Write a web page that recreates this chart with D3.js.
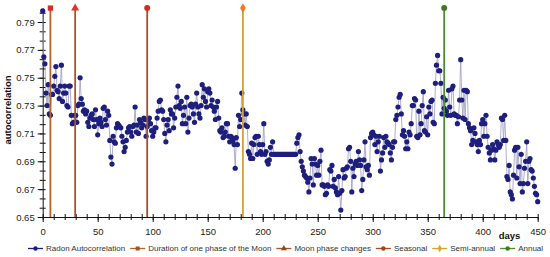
<!DOCTYPE html>
<html>
<head>
<meta charset="utf-8">
<script src="https://cdn.jsdelivr.net/npm/d3@7"></script>
<style>
    body { margin: 0; background: #fff; }
    svg text { font-family: "Liberation Sans", Arial, sans-serif; }
</style>
</head>
<body>
<div id="chart"></div>
<script>

// radon autocorrelation, one value per day starting at day 0
var autocorr = [
    .798, .765, .760, .739, .730, .745, .724, .723, .738, .738,
    .744, .751, .758, .741, .740, .735, .744, .759, .733, .739,
    .744, .739, .730, .729, .744, .744, .723, .717, .718, .723,
    .723, .718, .730, .731, .750, .735, .731, .726, .727, .724,
    .726, .718, .715, .721, .723, .724, .720, .715, .727, .720,
    .709, .717, .721, .718, .715, .728, .729, .720, .716, .726,
    .723, .705, .693, .688, .708, .704, .703, .714, .717, .716,
    .715, .714, .708, .704, .697, .700, .705, .711, .714, .715,
    .711, .708, .715, .716, .729, .711, .716, .710, .720, .718,
    .714, .716, .721, .720, .708, .715, .720, .721, .717, .712,
    .708, .711, .714, .714, .721, .726, .733, .734, .727, .726,
    .720, .710, .704, .716, .720, .712, .727, .724, .724, .714,
    .721, .729, .736, .744, .730, .728, .733, .717, .723, .729,
    .717, .736, .711, .721, .730, .731, .729, .724, .718, .731,
    .739, .729, .724, .721, .730, .745, .736, .742, .733, .729,
    .740, .742, .739, .730, .734, .729, .726, .720, .729, .733,
    .721, .712, .711, .714, .707, .708, .711, .717, .717, .708,
    .704, .708, .707, .705, .702, .685, .707, .702, .723, .715,
    .720, .739, .727, .724, .716, .724, .715, .697, .695, .692,
    .703, .692, .702, .707, .708, .695, .708, .702, .697, .695,
    .702, .717, .695, .697, .690, .688, .691, .700, .695, .704,
    .695, .695, .695, .695, .695, .695, .695, .695, .695, .695,
    .695, .695, .695, .695, .695, .695, .695, .695, .695, .695,
    .695, .703, .707, .709, .697, .690, .686, .683, .680, .679,
    .678, .675, .668, .678, .692, .688, .673, .692, .688, .680,
    .687, .680, .690, .698, .673, .673, .672, .666, .667, .673,
    .672, .684, .683, .687, .672, .677, .671, .668, .666, .679,
    .667, .655, .669, .684, .678, .679, .685, .686, .699, .700,
    .690, .668, .685, .679, .688, .690, .687, .697, .691, .687,
    .669, .677, .691, .704, .686, .684, .687, .680, .707, .710,
    .711, .709, .702, .708, .697, .704, .708, .683, .691, .696,
    .707, .700, .708, .704, .703, .702, .696, .691, .700, .704,
    .704, .720, .723, .729, .736, .738, .724, .709, .712, .708,
    .699, .704, .699, .711, .709, .717, .730, .730, .735, .734,
    .708, .707, .726, .709, .717, .730, .740, .712, .711, .722,
    .709, .729, .724, .733, .734, .718, .717, .746, .759, .766,
    .755, .755, .746, .724, .736, .728, .734, .726, .723, .741,
    .729, .723, .742, .744, .724, .723, .723, .717, .722, .734,
    .763, .734, .721, .741, .720, .741, .740, .717, .714, .712,
    .702, .705, .714, .710, .704, .702, .697, .705, .702, .717,
    .720, .708, .717, .723, .708, .700, .696, .691, .698, .702,
    .699, .691, .698, .704, .702, .700, .702, .721, .720, .705,
    .723, .705, .679, .677, .687, .668, .666, .663, .680, .698,
    .700, .678, .700, .686, .674, .695, .668, .674, .685, .690,
    .704, .674, .690, .692, .684, .683, .678, .672, .667, .666,
    .661
];
var seriesName = "Radon Autocorrelation";

// periodicities shown as vertical lines (days)
var periodNames = ["Duration of one phase of the Moon", "Moon phase changes", "Seasonal", "Semi-annual", "Annual"];
var periodDays = [7, 29.5, 95, 182, 365];

var xTicks = [0, 50, 100, 150, 200, 250, 300, 350, 400, 450];
var yTicks = [0.65, 0.67, 0.69, 0.71, 0.73, 0.75, 0.77, 0.79];

// styles
var lineColors = ["#b0642c", "#a8552e", "#a0502a", "#cfa23a", "#4c8a34"];
var markerColors = ["#e0262a", "#e43028", "#d8281e", "#f07a24", "#3f7a2a"];
var legendMarkerColors = ["#a0561e", "#8f4a1c", "#a0461a", "#d8aa22", "#3f7d22"];
var markerSymbols = [d3.symbolSquare, d3.symbolTriangle, d3.symbolCircle, d3.symbolDiamond, d3.symbolCircle];
var dotColor = "#1e1e7c";
var linkColor = "#9a9ac0";

var width = 550, height = 257;

var svg = d3.select("#chart").append("svg")
    .attr("width", width)
    .attr("height", height);

var x = d3.scaleLinear()
    .domain([0, 450])
    .range([42.7, 537.7]);

var y = d3.scaleLinear()
    .domain([0.65, 0.80])
    .range([217, 8.1]);

// minor ticks cross the axis line, labelled ones stick out further
var yMinor = d3.range(0, 23).map(function (i) { return 0.65 + i * 0.02 / 3; });
var xMinor = d3.range(0, 46).map(function (i) { return i * 10; });

svg.append("g")
    .attr("transform", "translate(" + x(0) + ",0)")
    .call(d3.axisRight(y).tickValues(yMinor).tickSize(3).tickFormat(""))
    .call(function (g) { g.select(".domain").remove(); });

svg.append("g")
    .attr("transform", "translate(" + x(0) + ",0)")
    .call(d3.axisLeft(y).tickValues(yMinor).tickSize(3).tickFormat(""))
    .call(function (g) { g.select(".domain").remove(); });

var yAxis = svg.append("g")
    .attr("transform", "translate(" + x(0) + ",0)")
    .call(d3.axisLeft(y).tickValues(yTicks).tickSizeInner(5).tickSizeOuter(0).tickPadding(3).tickFormat(d3.format(".2f")));

svg.append("g")
    .attr("transform", "translate(0," + y(0.65) + ")")
    .call(d3.axisTop(x).tickValues(xMinor).tickSize(3).tickFormat(""))
    .call(function (g) { g.select(".domain").remove(); });

svg.append("g")
    .attr("transform", "translate(0," + y(0.65) + ")")
    .call(d3.axisBottom(x).tickValues(xMinor).tickSize(3).tickFormat(""))
    .call(function (g) { g.select(".domain").remove(); });

var xAxis = svg.append("g")
    .attr("transform", "translate(0," + y(0.65) + ")")
    .call(d3.axisBottom(x).tickValues(xTicks).tickSizeInner(5).tickSizeOuter(0).tickPadding(6));

svg.selectAll(".tick text")
    .attr("font-size", "9.5px")
    .attr("fill", "#222");

svg.selectAll(".domain, .tick line")
    .attr("stroke", "#111");

// axis titles
svg.append("text")
    .attr("transform", "translate(11," + 110 + ") rotate(-90)")
    .attr("text-anchor", "middle")
    .attr("font-size", "9.5px")
    .attr("font-weight", "bold")
    .attr("fill", "#111")
    .text("autocorrelation");

svg.append("text")
    .attr("x", 509.5)
    .attr("y", 239)
    .attr("text-anchor", "middle")
    .attr("font-size", "9.5px")
    .attr("font-weight", "bold")
    .attr("fill", "#111")
    .text("days");

// data series: thin link line + dots
var line = d3.line()
    .x(function (d, i) { return x(i); })
    .y(function (d) { return y(d); });

svg.append("path")
    .datum(autocorr)
    .attr("fill", "none")
    .attr("stroke", linkColor)
    .attr("stroke-width", 0.8)
    .attr("d", line);

svg.selectAll("circle.dot")
    .data(autocorr)
    .enter().append("circle")
    .attr("class", "dot")
    .attr("cx", function (d, i) { return x(i); })
    .attr("cy", function (d) { return y(d); })
    .attr("r", 2.6)
    .attr("fill", dotColor);

// periodicity lines with marker on top
var periods = periodDays.map(function (d, i) {
    return { day: d, name: periodNames[i], i: i };
});

svg.selectAll("line.period")
    .data(periods)
    .enter().append("line")
    .attr("class", "period")
    .attr("x1", function (d) { return x(d.day); })
    .attr("x2", function (d) { return x(d.day); })
    .attr("y1", y(0.65))
    .attr("y2", y(0.80))
    .attr("stroke", function (d) { return lineColors[d.i]; })
    .attr("stroke-width", 1.8);

svg.selectAll("path.marker")
    .data(periods)
    .enter().append("path")
    .attr("class", "marker")
    .attr("transform", function (d) { return "translate(" + x(d.day) + "," + y(0.80) + ")"; })
    .attr("d", function (d) { return d3.symbol().type(markerSymbols[d.i]).size(28)(); })
    .attr("fill", function (d) { return markerColors[d.i]; });

// legend, laid out left to right
var legendItems = [{ name: seriesName, line: linkColor, marker: dotColor, symbol: d3.symbolCircle }]
    .concat(periods.map(function (d) {
        return { name: d.name, line: lineColors[d.i], marker: legendMarkerColors[d.i], symbol: markerSymbols[d.i] };
    }));

var legend = svg.append("g").attr("transform", "translate(0,248.5)");
var cursor = 28;

legendItems.forEach(function (item) {
    var g = legend.append("g").attr("transform", "translate(" + cursor + ",0)");
    g.append("line")
        .attr("x1", 0).attr("x2", 15)
        .attr("stroke", item.name === seriesName ? dotColor : item.line)
        .attr("stroke-width", 1.3);
    g.append("path")
        .attr("transform", "translate(7.5,0)")
        .attr("d", d3.symbol().type(item.symbol).size(16)())
        .attr("fill", item.marker);
    var t = g.append("text")
        .attr("x", 18)
        .attr("dy", "0.35em")
        .attr("font-size", "8px")
        .attr("fill", "#333")
        .text(item.name);
    cursor += 18 + t.node().getComputedTextLength() + 5;
});

</script>
</body>
</html>
